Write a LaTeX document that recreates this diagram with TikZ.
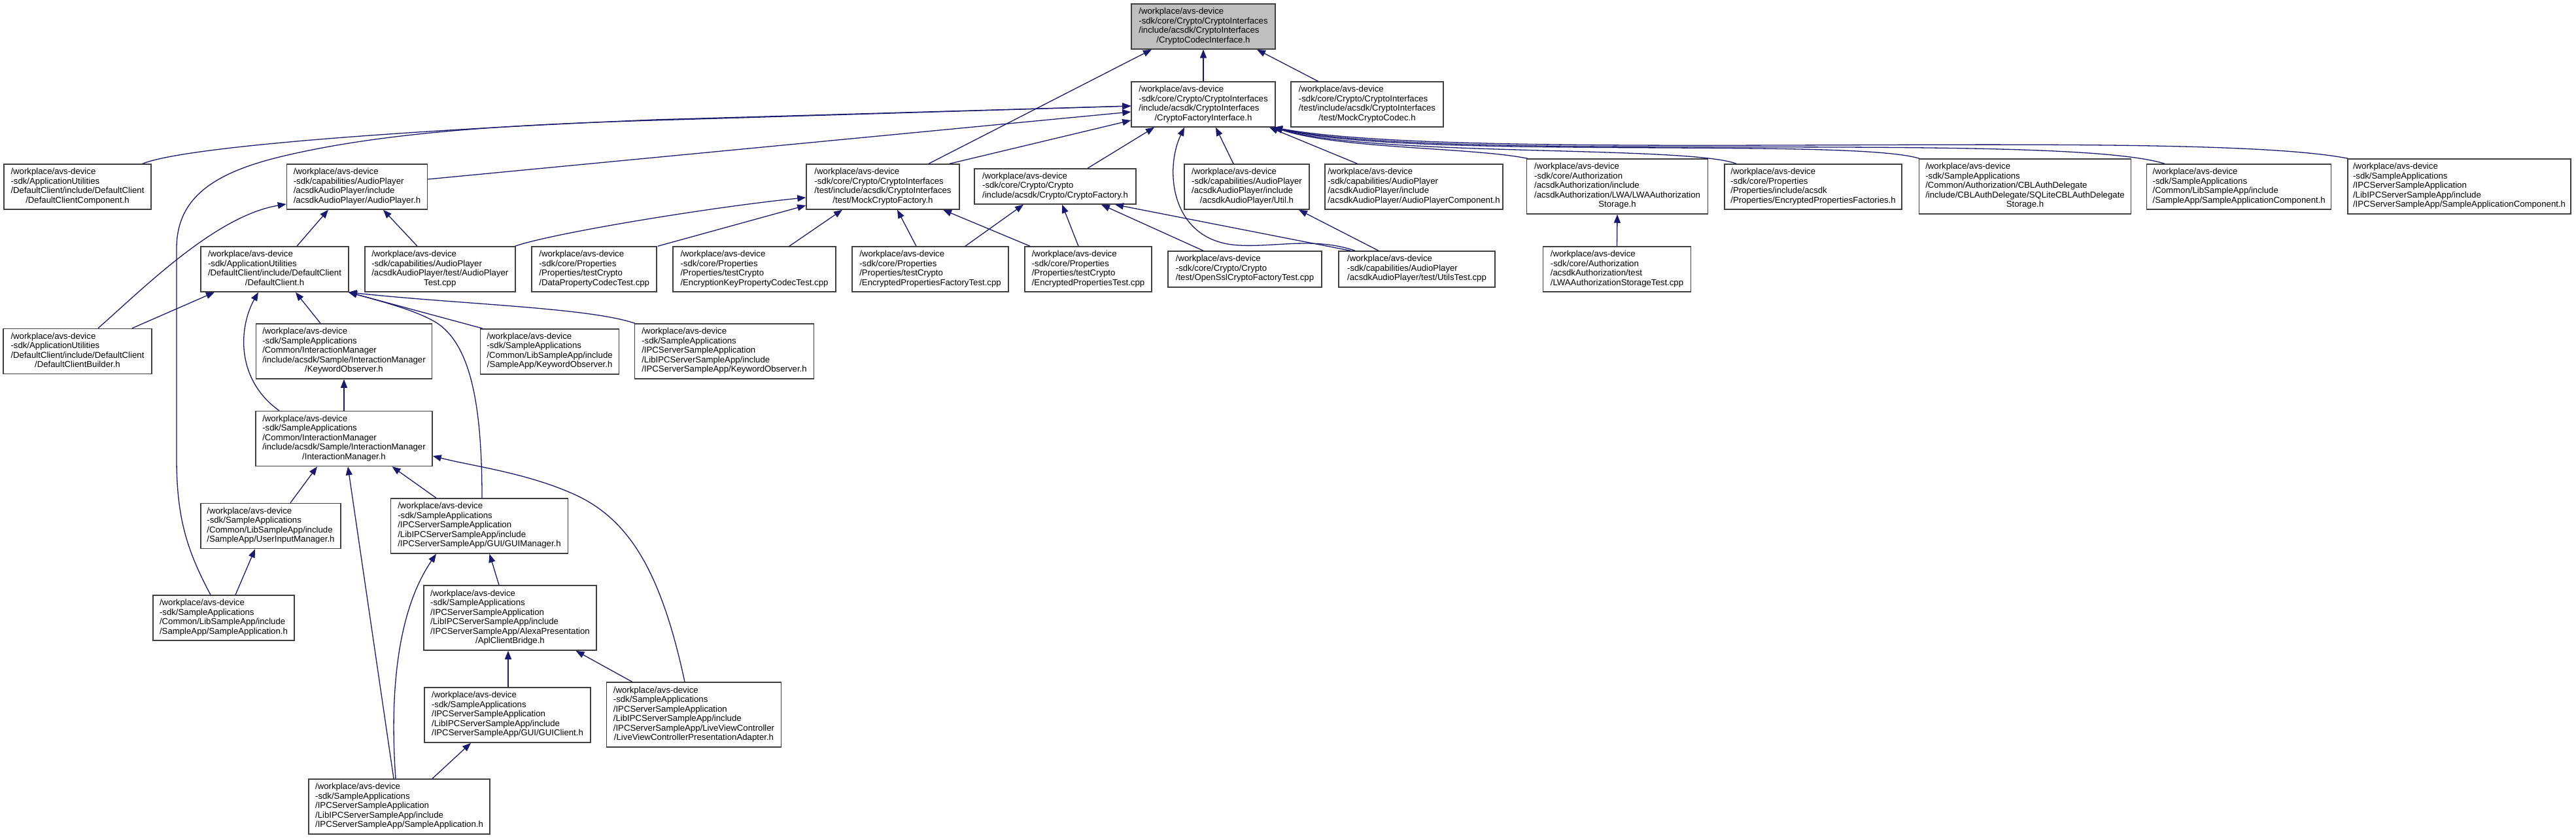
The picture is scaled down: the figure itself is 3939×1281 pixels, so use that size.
\documentclass[tikz,border=0pt]{standalone}
\usepackage{fontspec}
\setmainfont{Liberation Sans}
\usetikzlibrary{arrows.meta}
\definecolor{edgec}{HTML}{191970}
\definecolor{boxc}{HTML}{404040}
\definecolor{rootfill}{HTML}{BFBFBF}
\newcommand\lbl[2]{\begin{tabular}{@{}l@{}}#1\\\multicolumn{1}{@{}c@{}}{#2}\end{tabular}}
\begin{document}
\begin{tikzpicture}[x=1pt,y=-1pt,
  dbox/.style={draw=boxc, line width=1.5pt, fill=white, inner xsep=2pt, inner ysep=2pt,
    font=\fontsize{13.2}{14.5}\selectfont, minimum height=69pt},
  h3/.style={minimum height=55pt},
  h5/.style={minimum height=84pt},
  h6/.style={minimum height=99pt},
  conn/.style={draw=edgec, line width=1.3pt, arrows={-Triangle[length=13pt,width=10pt]}}]
\fill[white] (0,0) rectangle (3939,1281);
\useasboundingbox (0,0) rectangle (3939,1281);
% row 1
\node[dbox, fill=rootfill, minimum width=220pt] (root) at (1840,40.5)
  {\lbl{/workplace/avs-device\\-sdk/core/Crypto/CryptoInterfaces\\/include/acsdk/CryptoInterfaces}{/CryptoCodecInterface.h}};
% row 2
\node[dbox, minimum width=220pt] (CFI) at (1840,159.5)
  {\lbl{/workplace/avs-device\\-sdk/core/Crypto/CryptoInterfaces\\/include/acsdk/CryptoInterfaces}{/CryptoFactoryInterface.h}};
\node[dbox, minimum width=233pt] (MCC) at (2090.5,159.5)
  {\lbl{/workplace/avs-device\\-sdk/core/Crypto/CryptoInterfaces\\/test/include/acsdk/CryptoInterfaces}{/test/MockCryptoCodec.h}};
% row 3
\node[dbox, minimum width=225pt] (DCC) at (118.5,285.5)
  {\lbl{/workplace/avs-device\\-sdk/ApplicationUtilities\\/DefaultClient/include/DefaultClient}{/DefaultClientComponent.h}};
\node[dbox, minimum width=215pt] (AP) at (546,285.5)
  {\lbl{/workplace/avs-device\\-sdk/capabilities/AudioPlayer\\/acsdkAudioPlayer/include}{/acsdkAudioPlayer/AudioPlayer.h}};
\node[dbox, minimum width=234pt] (MCF) at (1350,285.5)
  {\lbl{/workplace/avs-device\\-sdk/core/Crypto/CryptoInterfaces\\/test/include/acsdk/CryptoInterfaces}{/test/MockCryptoFactory.h}};
\node[dbox, h3, minimum width=247pt, minimum height=54pt] (CF) at (1613.5,285)
  {\lbl{/workplace/avs-device\\-sdk/core/Crypto/Crypto}{/include/acsdk/Crypto/CryptoFactory.h}};
\node[dbox, minimum width=191pt] (Util) at (1906.5,285.5)
  {\lbl{/workplace/avs-device\\-sdk/capabilities/AudioPlayer\\/acsdkAudioPlayer/include}{/acsdkAudioPlayer/Util.h}};
\node[dbox, minimum width=272pt] (APC) at (2162,285.5)
  {\lbl{/workplace/avs-device\\-sdk/capabilities/AudioPlayer\\/acsdkAudioPlayer/include}{/acsdkAudioPlayer/AudioPlayerComponent.h}};
\node[dbox, h5, minimum width=277pt] (LWA) at (2473,285)
  {\lbl{/workplace/avs-device\\-sdk/core/Authorization\\/acsdkAuthorization/include\\/acsdkAuthorization/LWA/LWAAuthorization}{Storage.h}};
\node[dbox, minimum width=271pt] (EPF) at (2772.5,285.5)
  {\lbl{/workplace/avs-device\\-sdk/core/Properties\\/Properties/include/acsdk}{/Properties/EncryptedPropertiesFactories.h}};
\node[dbox, h5, minimum width=324pt] (CBL) at (3096.5,285)
  {\lbl{/workplace/avs-device\\-sdk/SampleApplications\\/Common/Authorization/CBLAuthDelegate\\/include/CBLAuthDelegate/SQLiteCBLAuthDelegate}{Storage.h}};
\node[dbox, minimum width=282pt] (SACA) at (3423.7,285.5)
  {\lbl{/workplace/avs-device\\-sdk/SampleApplications\\/Common/LibSampleApp/include}{/SampleApp/SampleApplicationComponent.h}};
\node[dbox, h5, minimum width=341pt] (SACB) at (3760.5,285)
  {\lbl{/workplace/avs-device\\-sdk/SampleApplications\\/IPCServerSampleApplication\\/LibIPCServerSampleApp/include}{/IPCServerSampleApp/SampleApplicationComponent.h}};
% row 4
\node[dbox, minimum width=226pt] (DC) at (420,411.5)
  {\lbl{/workplace/avs-device\\-sdk/ApplicationUtilities\\/DefaultClient/include/DefaultClient}{/DefaultClient.h}};
\node[dbox, minimum width=230pt] (APT) at (672.8,411.5)
  {\lbl{/workplace/avs-device\\-sdk/capabilities/AudioPlayer\\/acsdkAudioPlayer/test/AudioPlayer}{Test.cpp}};
\node[dbox, minimum width=191pt] (DPCT) at (908.7,411.5)
  {\lbl{/workplace/avs-device\\-sdk/core/Properties\\/Properties/testCrypto}{/DataPropertyCodecTest.cpp}};
\node[dbox, minimum width=249pt] (EKPCT) at (1153.5,411.5)
  {\lbl{/workplace/avs-device\\-sdk/core/Properties\\/Properties/testCrypto}{/EncryptionKeyPropertyCodecTest.cpp}};
\node[dbox, minimum width=239pt] (EPFT) at (1422.5,411.5)
  {\lbl{/workplace/avs-device\\-sdk/core/Properties\\/Properties/testCrypto}{/EncryptedPropertiesFactoryTest.cpp}};
\node[dbox, minimum width=194pt] (EPT) at (1664,411.5)
  {\lbl{/workplace/avs-device\\-sdk/core/Properties\\/Properties/testCrypto}{/EncryptedPropertiesTest.cpp}};
\node[dbox, h3, minimum width=235pt] (OSCFT) at (1903.5,411.5)
  {\lbl{/workplace/avs-device\\-sdk/core/Crypto/Crypto}{/test/OpenSslCryptoFactoryTest.cpp}};
\node[dbox, h3, minimum width=239pt] (UT) at (2166.5,411.5)
  {\lbl{/workplace/avs-device\\-sdk/capabilities/AudioPlayer}{/acsdkAudioPlayer/test/UtilsTest.cpp}};
\node[dbox, minimum width=226pt] (LWAT) at (2472.5,411.5)
  {\lbl{/workplace/avs-device\\-sdk/core/Authorization\\/acsdkAuthorization/test}{/LWAAuthorizationStorageTest.cpp}};
% row 5
\node[dbox, minimum width=227pt] (DCB) at (118.5,537)
  {\lbl{/workplace/avs-device\\-sdk/ApplicationUtilities\\/DefaultClient/include/DefaultClient}{/DefaultClientBuilder.h}};
\node[dbox, h5, minimum width=269pt] (KOA) at (526,537)
  {\lbl{/workplace/avs-device\\-sdk/SampleApplications\\/Common/InteractionManager\\/include/acsdk/Sample/InteractionManager}{/KeywordObserver.h}};
\node[dbox, minimum width=212pt] (KOB) at (840.6,537.3)
  {\lbl{/workplace/avs-device\\-sdk/SampleApplications\\/Common/LibSampleApp/include}{/SampleApp/KeywordObserver.h}};
\node[dbox, h5, minimum width=274pt] (KOC) at (1107.5,537)
  {\lbl{/workplace/avs-device\\-sdk/SampleApplications\\/IPCServerSampleApplication\\/LibIPCServerSampleApp/include}{/IPCServerSampleApp/KeywordObserver.h}};
% row 6
\node[dbox, h5, minimum width=270pt] (IM) at (526,670.5)
  {\lbl{/workplace/avs-device\\-sdk/SampleApplications\\/Common/InteractionManager\\/include/acsdk/Sample/InteractionManager}{/InteractionManager.h}};
% row 7
\node[dbox, minimum width=214pt] (UIM) at (414,804)
  {\lbl{/workplace/avs-device\\-sdk/SampleApplications\\/Common/LibSampleApp/include}{/SampleApp/UserInputManager.h}};
\node[dbox, h5, minimum width=271pt] (GUIM) at (733,804)
  {\lbl{/workplace/avs-device\\-sdk/SampleApplications\\/IPCServerSampleApplication\\/LibIPCServerSampleApp/include}{/IPCServerSampleApp/GUI/GUIManager.h}};
% row 8
\node[dbox, minimum width=216pt] (SAA) at (342,944.5)
  {\lbl{/workplace/avs-device\\-sdk/SampleApplications\\/Common/LibSampleApp/include}{/SampleApp/SampleApplication.h}};
\node[dbox, h6, minimum width=264pt] (ACB) at (780,944.5)
  {\lbl{/workplace/avs-device\\-sdk/SampleApplications\\/IPCServerSampleApplication\\/LibIPCServerSampleApp/include\\/IPCServerSampleApp/AlexaPresentation}{/AplClientBridge.h}};
% row 9
\node[dbox, h5, minimum width=254pt] (GUIC) at (776,1093)
  {\lbl{/workplace/avs-device\\-sdk/SampleApplications\\/IPCServerSampleApplication\\/LibIPCServerSampleApp/include}{/IPCServerSampleApp/GUI/GUIClient.h}};
\node[dbox, h6, minimum width=267pt] (LVC) at (1061,1092.5)
  {\lbl{/workplace/avs-device\\-sdk/SampleApplications\\/IPCServerSampleApplication\\/LibIPCServerSampleApp/include\\/IPCServerSampleApp/LiveViewController}{/LiveViewControllerPresentationAdapter.h}};
% row 10
\node[dbox, h5, minimum width=277pt] (SAB) at (610.5,1233)
  {\lbl{/workplace/avs-device\\-sdk/SampleApplications\\/IPCServerSampleApplication\\/LibIPCServerSampleApp/include}{/IPCServerSampleApp/SampleApplication.h}};

% ---- edges to root
\draw[conn] (CFI.north) -- (root.south);
\draw[conn] ([xshift=-75pt]MCC.north) -- ([xshift=82pt]root.south);
\draw[conn] ([xshift=70pt]MCF.north) -- ([xshift=-79pt]root.south);
% ---- edges to CFI
\draw[conn] ([xshift=102pt]MCF.north) -- ([yshift=-24.5pt]CFI.west);
\draw[conn] ([xshift=99.5pt]DCC.north) .. controls (280,225) and (600,200) .. (1000,183) -- ([yshift=-2.5pt]CFI.west);
\draw[conn] ([xshift=-20pt]SAA.north) .. controls (285,840) and (270,790) .. (270,700) -- (270,380)
  .. controls (270,300) and (330,262) .. (440,237) .. controls (600,200) and (800,190) .. (1000,184) -- ([yshift=-2.5pt]CFI.west);
\draw[conn] ([yshift=11.5pt]AP.east) -- ([yshift=-11.5pt]CFI.west);
\draw[conn] ([xshift=49.5pt]CF.north) -- ([xshift=-75pt]CFI.south);
\draw[conn] ([xshift=-94.5pt]UT.north) .. controls (2010,362) and (1950,378) .. (1895,375)
  .. controls (1790,370) and (1780,260) .. ([xshift=-29pt]CFI.south);
\draw[conn] ([xshift=-20.5pt]Util.north) -- ([xshift=19pt]CFI.south);
\draw[conn] ([xshift=-86.5pt]APC.north) -- ([xshift=101pt]CFI.south);
\draw[conn] ([xshift=2pt]LWA.north west) .. controls (2250,225) and (2050,228) .. ([xshift=-3pt]CFI.south east);
\draw[conn] ([xshift=-117.5pt]EPF.north) .. controls (2580,222) and (2100,240) .. ([xshift=-3pt]CFI.south east);
\draw[conn] ([xshift=1pt]CBL.north west) .. controls (2830,210) and (2150,245) .. ([xshift=-3pt]CFI.south east);
\draw[conn] ([xshift=-113.7pt]SACA.north) .. controls (3150,200) and (2200,250) .. ([xshift=-3pt]CFI.south east);
\draw[conn] ([xshift=1pt]SACB.north west) .. controls (3350,195) and (2250,250) .. ([xshift=-3pt]CFI.south east);
% ---- edges to AP
\draw[conn] ([xshift=34pt]DC.north) -- ([xshift=-44pt]AP.south);
\draw[conn] ([xshift=-34.8pt]APT.north) -- ([xshift=40pt]AP.south);
\draw[conn] ([xshift=31.5pt]DCB.north) .. controls (220,440) and (330,330) .. ([yshift=-26.5pt]AP.west);
% ---- edges to MCF
\draw[conn] ([xshift=-1pt]APT.north east) .. controls (850,355) and (1100,315) .. ([yshift=-16.5pt]MCF.west);
\draw[conn] ([xshift=1pt]DPCT.north east) -- ([yshift=-28.5pt]MCF.west);
\draw[conn] ([xshift=53.5pt]EKPCT.north) -- ([xshift=-62pt]MCF.south);
\draw[conn] ([xshift=-21.5pt]EPFT.north) -- ([xshift=22pt]MCF.south);
\draw[conn] ([xshift=-89pt]EPT.north) -- ([xshift=92pt]MCF.south);
% ---- edges to CF
\draw[conn] ([xshift=53.5pt]EPFT.north) -- ([xshift=-48.5pt]CF.south);
\draw[conn] ([xshift=-15pt]EPT.north) -- ([xshift=10.5pt]CF.south);
\draw[conn] ([xshift=-63.5pt]OSCFT.north) -- ([xshift=70.5pt]CF.south);
\draw[conn] ([xshift=-101.5pt]UT.north) -- ([xshift=91.5pt]CF.south);
% ---- edges to Util, LWA
\draw[conn] ([xshift=-58.5pt]UT.north) -- ([xshift=79.5pt]Util.south);
\draw[conn] (LWAT.north) -- (LWA.south);
% ---- edges to DC
\draw[conn] ([xshift=83.5pt]DCB.north) -- ([xshift=-92pt]DC.south);
\draw[conn] ([xshift=-36pt]KOA.north) -- ([xshift=32pt]DC.south);
\draw[conn] ([xshift=-99pt]IM.north) .. controls (360,580) and (365,500) .. ([xshift=-25pt]DC.south);
\draw[conn] ([xshift=4pt]GUIM.north) .. controls (737,620) and (720,530) .. (670,495)
  .. controls (640,475) and (580,460) .. ([xshift=-1pt]DC.south east);
\draw[conn] ([xshift=4pt]KOB.north west) -- ([xshift=-1pt]DC.south east);
\draw[conn] ([xshift=1pt]KOC.north west) .. controls (900,470) and (700,465) .. ([xshift=-1pt]DC.south east);
% ---- edges to IM and below
\draw[conn] (IM.north) -- (KOA.south);
\draw[conn] ([xshift=30pt]UIM.north) -- ([xshift=-41pt]IM.south);
\draw[conn] ([xshift=-66pt]GUIM.north) -- ([xshift=73.5pt]IM.south);
\draw[conn] ([xshift=-8.5pt]SAB.north) -- ([xshift=6pt]IM.south);
\draw[conn] ([xshift=-14pt]LVC.north) .. controls (1010,870) and (960,790) .. (872,753)
  .. controls (800,722) and (720,712) .. ([yshift=-26.5pt]IM.east);
\draw[conn] ([xshift=18pt]SAA.north) -- ([xshift=-24pt]UIM.south);
\draw[conn] ([xshift=-5.5pt]SAB.north) .. controls (595,1050) and (610,930) .. ([xshift=-66pt]GUIM.south);
\draw[conn] ([xshift=-17pt]ACB.north) -- ([xshift=15.5pt]GUIM.south);
\draw[conn] ([xshift=1pt]GUIC.north) -- ([xshift=-3pt]ACB.south);
\draw[conn] ([xshift=-94.4pt]LVC.north) -- ([xshift=100.5pt]ACB.south);
\draw[conn] ([xshift=50.5pt]SAB.north) -- ([xshift=-56pt]GUIC.south);
\end{tikzpicture}
\end{document}
